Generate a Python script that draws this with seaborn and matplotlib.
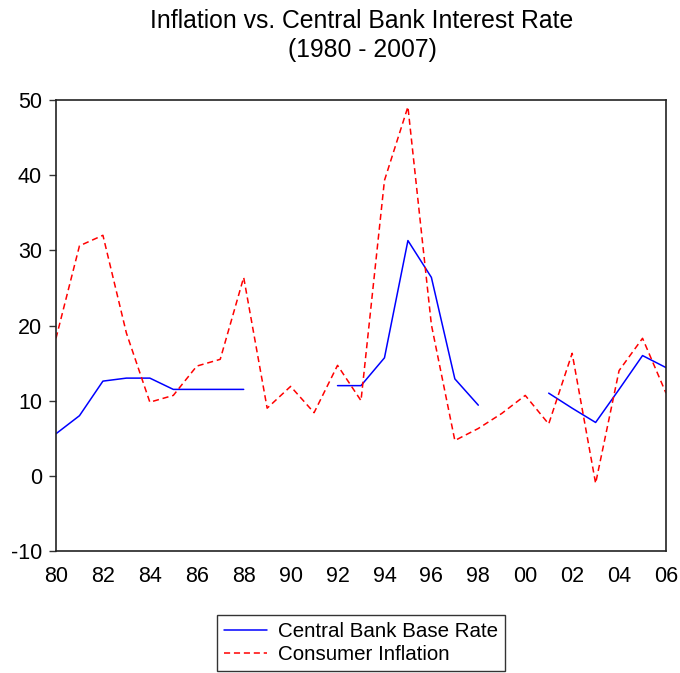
import matplotlib
matplotlib.use("Agg")
import matplotlib.pyplot as plt
from matplotlib.lines import Line2D
import seaborn as sns
import pandas as pd
import numpy as np

years = list(range(1980, 2007))
base_rate = [5.6, 8.0, 12.6, 13.0, 13.0, 11.5, 11.5, 11.5, 11.5,
             np.nan, np.nan, np.nan, 12.0, 12.0, 15.7, 31.3, 26.4, 12.9, 9.4,
             np.nan, np.nan, 11.0, 9.0, 7.1, 11.5, 16.0, 14.4]
inflation = [18.3, 30.6, 32.0, 19.0, 9.8, 10.7, 14.6, 15.5, 26.4,
             9.0, 11.9, 8.4, 14.7, 10.0, 39.3, 49.1, 20.1, 4.7, 6.3,
             8.3, 10.7, 6.9, 16.3, -1.0, 14.0, 18.3, 11.0]
series_names = ["Central Bank Base Rate", "Consumer Inflation"]
colors = {"Central Bank Base Rate": "#0000ff", "Consumer Inflation": "#ff0000"}

# long form, with a segment id so gaps stay gaps
rows = []
for name, vals in zip(series_names, [base_rate, inflation]):
    seg = 0
    prev_nan = False
    for yr, v in zip(years, vals):
        if np.isnan(v):
            prev_nan = True
            continue
        if prev_nan:
            seg += 1
            prev_nan = False
        rows.append({"year": yr, "value": v, "series": name, "seg": f"{name}_{seg}"})
df = pd.DataFrame(rows)

sns.set_style("white")
plt.rcParams["font.family"] = ["Liberation Sans", "DejaVu Sans"]
plt.rcParams["text.color"] = "black"
plt.rcParams["axes.unicode_minus"] = False

fig = plt.figure(figsize=(6.8, 6.73), dpi=100)
ax = fig.add_axes([56 / 680, 1 - 551 / 673, 610 / 680, 451 / 673])

sns.lineplot(data=df, x="year", y="value", hue="series", style="series",
             units="seg", estimator=None, palette=colors,
             dashes={"Central Bank Base Rate": "", "Consumer Inflation": (4, 2.5)},
             linewidth=1.1, legend=False, ax=ax)

ax.set_xlim(1980, 2006)
ax.set_ylim(-10, 50)
ax.set_yticks(range(-10, 51, 10))
ax.set_xticks(years)
ax.set_xticklabels([f"{y % 100:02d}" if y % 2 == 0 else "" for y in years])
ax.set_xlabel("")
ax.set_ylabel("")
ax.tick_params(axis="x", direction="in", length=6, width=1, colors="#333333",
               labelcolor="black", labelsize=15.5, pad=11)
ax.tick_params(axis="y", direction="out", length=5, width=1, colors="#333333",
               labelcolor="black", labelsize=15.5, left=True, pad=5)
for sp in ax.spines.values():
    sp.set_color("#222222")
    sp.set_linewidth(1.2)

fig.text(362 / 680, 1 - 21 / 673, "Inflation vs. Central Bank Interest Rate",
         ha="center", va="center", fontsize=17.8)
fig.text(362 / 680, 1 - 50 / 673, "(1980 - 2007)",
         ha="center", va="center", fontsize=17.8)

handles = [Line2D([], [], color=colors[series_names[0]], lw=1.1),
           Line2D([], [], color=colors[series_names[1]], lw=1.1, dashes=(4, 2.5))]
leg = fig.legend(handles, series_names, loc="center",
                 bbox_to_anchor=(361 / 680, 1 - 643 / 673), fontsize=14.8,
                 frameon=True, fancybox=False, handlelength=2.1,
                 borderpad=0.35, labelspacing=0.2, handletextpad=0.5)
leg.get_frame().set_edgecolor("black")
leg.get_frame().set_linewidth(1.0)

fig.savefig("out.png", dpi=100)
